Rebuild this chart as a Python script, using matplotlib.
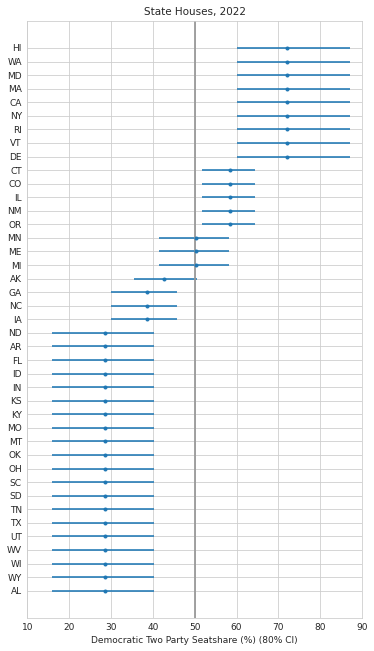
import matplotlib
matplotlib.use("Agg")
import matplotlib.pyplot as plt
import seaborn as sns
import numpy as np

sns.set_style("whitegrid")
plt.rcParams['font.family'] = ['DejaVu Sans']

# states top to bottom
states = ['HI', 'WA', 'MD', 'MA', 'CA', 'NY', 'RI', 'VT', 'DE',
          'CT', 'CO', 'IL', 'NM', 'OR',
          'MN', 'ME', 'MI',
          'AK',
          'GA', 'NC', 'IA',
          'ND', 'AR', 'FL', 'ID', 'IN', 'KS', 'KY', 'MO', 'MT', 'OK',
          'OH', 'SC', 'SD', 'TN', 'TX', 'UT', 'WV', 'WI', 'WY', 'AL']
median = [72.1] * 9 + [58.4] * 5 + [50.3] * 3 + [42.6] + [38.7] * 3 + [28.6] * 20
low = [60.0] * 9 + [51.7] * 5 + [41.5] * 3 + [35.5] + [30.0] * 3 + [15.9] * 20
high = [87.2] * 9 + [64.5] * 5 + [58.1] * 3 + [50.5] + [45.7] * 3 + [40.2] * 20

median = np.array(median)
low = np.array(low)
high = np.array(high)
ypos = np.arange(len(states))[::-1] + 1

fig = plt.figure(figsize=(374 / 72, 651 / 72), dpi=72)
ax = fig.add_axes([0.073, 0.051, 0.895, 0.917])

ax.errorbar(median, ypos, xerr=[median - low, high - median], fmt='.',
            color='#1f77b4', ecolor=(0.12, 0.47, 0.71, 0.8), elinewidth=2,
            markersize=6)
ax.axvline(50, color='#999999', linewidth=1.8)

ax.set_yticks(ypos)
ax.set_yticklabels(states)
ax.set_ylim(-1, len(states) + 2)
ax.set_xlim(10, 90)
ax.set_xticks(range(10, 91, 10))
ax.tick_params(axis='both', labelsize=9, pad=2)
ax.set_xlabel("Democratic Two Party Seatshare (%) (80% CI)", fontsize=9)
ax.set_title("State Houses, 2022", fontsize=10.4)

fig.savefig("out.png", dpi=72)
